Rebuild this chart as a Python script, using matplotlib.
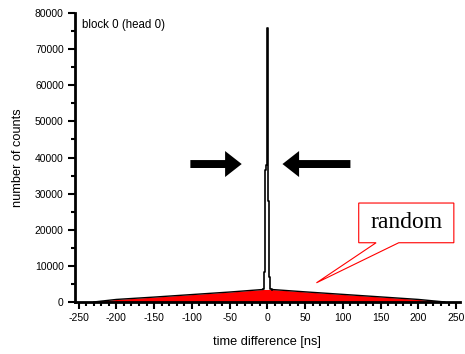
import matplotlib
matplotlib.use("Agg")
import matplotlib.pyplot as plt
from matplotlib.patches import Polygon, FancyArrow
from matplotlib.ticker import MultipleLocator

plt.rcParams['font.family'] = ['Liberation Sans', 'DejaVu Sans']
plt.rcParams['axes.unicode_minus'] = False

# random (accidental) background
bg_x = [-230, -200, -150, -100, -50, -6, 6, 50, 100, 150, 200, 235]
bg_y = [0, 700, 1350, 2050, 2750, 3450, 3450, 2800, 2100, 1400, 700, 0]

# prompt peak, 1 ns bins around zero
peak_x = [-6, -5, -4, -3, -2, -1, 0, 1, 2, 3, 4, 5, 6]
peak_y = [3500, 3600, 8200, 8300, 36500, 38000, 76000, 28000, 7200, 7000, 3600, 3500, 3450]

fig = plt.figure(figsize=(4.65, 3.54), dpi=100)
ax = fig.add_axes([0.161, 0.147, 0.828, 0.816])

ax.fill_between(bg_x, bg_y, color='#ff0000', lw=0)
ax.plot(bg_x[:6], bg_y[:6], color='black', lw=1.0)
ax.plot(bg_x[6:], bg_y[6:], color='black', lw=1.0)
ax.plot(peak_x, peak_y, color='black', lw=1.2, drawstyle='steps-mid')

ax.set_xlim(-255, 255)
ax.set_ylim(0, 80000)
ax.xaxis.set_major_locator(MultipleLocator(50))
ax.xaxis.set_minor_locator(MultipleLocator(10))
ax.yaxis.set_major_locator(MultipleLocator(10000))
ax.yaxis.set_minor_locator(MultipleLocator(5000))
for s in ['top', 'right']:
    ax.spines[s].set_visible(False)
for s in ['left', 'bottom']:
    ax.spines[s].set_linewidth(2)
ax.tick_params(which='major', direction='out', length=5, width=1.5, labelsize=7.5, pad=3)
ax.tick_params(which='minor', direction='out', length=3, width=1.5)

ax.set_xlabel('time difference [ns]', fontsize=9.2, labelpad=9)
ax.set_ylabel('number of counts', fontsize=9.2, labelpad=8)
ax.text(-245, 78500, 'block 0 (head 0)', fontsize=8.3, va='top', ha='left')

# arrows pointing at the peak
ax.add_patch(FancyArrow(-102, 38200, 68, 0, width=2200, head_width=7200, head_length=22,
                        length_includes_head=True, color='black', lw=0))
ax.add_patch(FancyArrow(110, 38200, -90, 0, width=2200, head_width=7200, head_length=22,
                        length_includes_head=True, color='black', lw=0))

# callout for "random"
callout = Polygon([(121, 27400), (247, 27400), (247, 16400), (174, 16400), (65, 5300),
                   (144, 16400), (121, 16400)], closed=True, facecolor='white',
                  edgecolor='#ff0000', lw=0.8, clip_on=False)
ax.add_patch(callout)
ax.text(184, 21900, 'random', fontsize=17, family='Liberation Serif', ha='center', va='center')

fig.savefig('out.png', dpi=100)
